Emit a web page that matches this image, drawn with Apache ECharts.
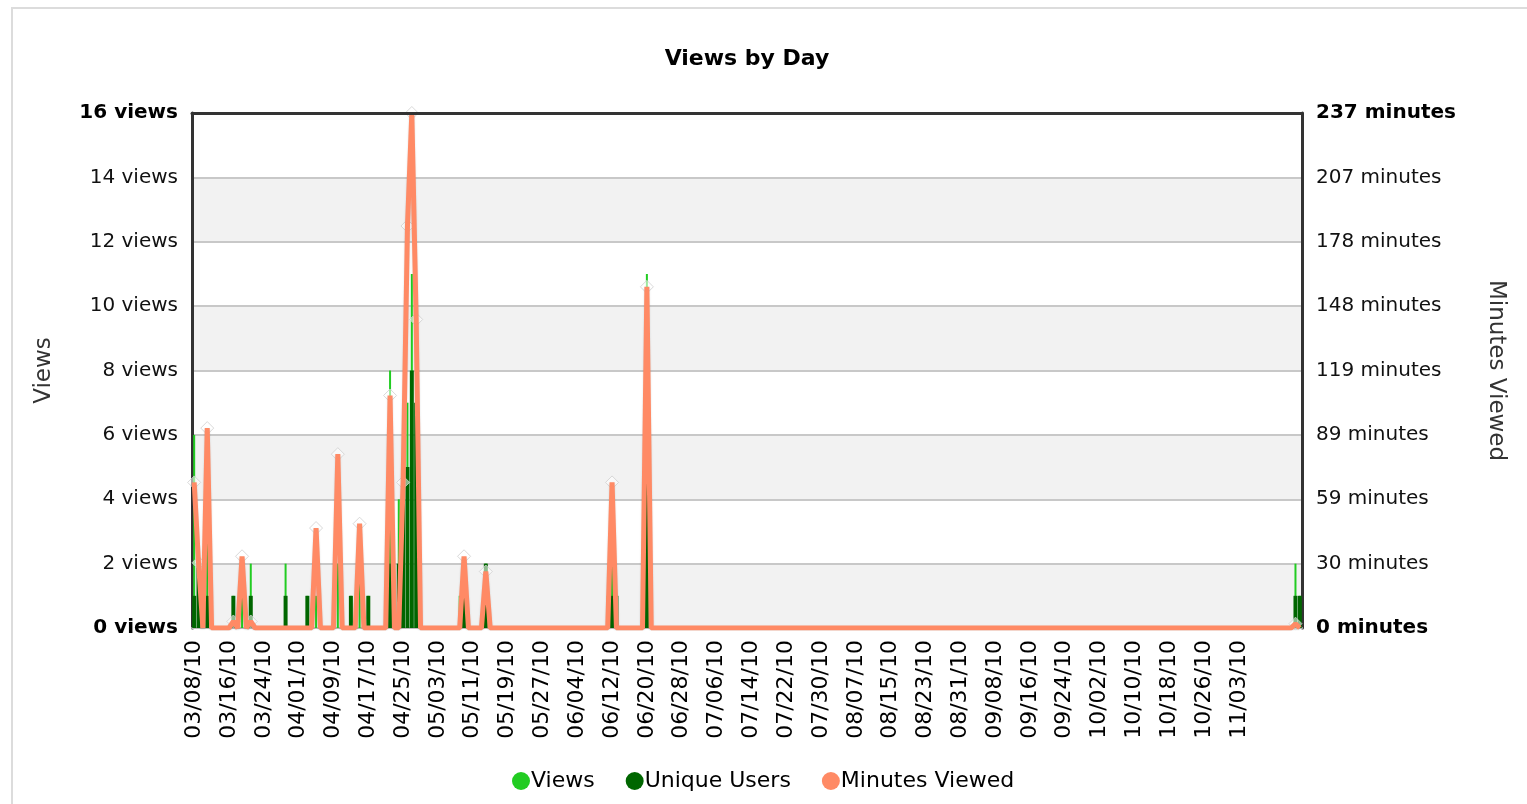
<!DOCTYPE html>
<html>
<head>
<meta charset="utf-8">
<title>Views by Day</title>
<script src="https://cdn.jsdelivr.net/npm/echarts@6/dist/echarts.min.js"></script>
<style>
html, body { margin: 0; padding: 0; background: #fff; }
#chart { width: 1527px; height: 804px; }
</style>
</head>
<body>
<div id="chart"></div>
<script>
// days run from 03/08/10, one category per day
var startDate = [2010, 2, 8];
var dayCount = 255;

// [day index, value] for the days that have something, all other days are 0
var viewsByDay = [[0, 6], [1, 2], [3, 3], [9, 1], [11, 1], [13, 2], [21, 2], [26, 1], [28, 1], [33, 2],
	[36, 1], [38, 2], [40, 1], [45, 8], [46, 1], [47, 4], [48, 6], [49, 7], [50, 11], [51, 10],
	[61, 1], [62, 1], [67, 2], [95, 1], [96, 2], [97, 1], [103, 1], [104, 11], [253, 2], [254, 1]];
var usersByDay = [[0, 1], [1, 2], [3, 1], [9, 1], [13, 1], [21, 1], [26, 1], [36, 1], [40, 1], [45, 2],
	[47, 2], [48, 4], [49, 5], [50, 8], [51, 7], [62, 1], [67, 2], [96, 1], [97, 1], [104, 5], [253, 1], [254, 1]];
var minutesByDay = [[0, 67], [1, 30], [3, 92], [9, 3], [11, 33], [13, 3], [28, 46], [33, 80], [38, 48],
	[45, 107], [48, 67], [49, 185], [50, 237], [51, 142], [62, 33], [67, 26], [96, 67], [104, 157], [253, 2]];

var viewsMax = 16;
var minutesMax = 237;

var FONT = 'DejaVu Sans';

function dayLabels() {
	var res = [];
	for (var i = 0; i < dayCount; i++) {
		var d = new Date(startDate[0], startDate[1], startDate[2] + i);
		var mm = ('0' + (d.getMonth() + 1)).slice(-2);
		var dd = ('0' + d.getDate()).slice(-2);
		var yy = ('' + d.getFullYear()).slice(-2);
		res.push(mm + '/' + dd + '/' + yy);
	}
	return res;
}

function fullSeries(pairs) {
	var res = [];
	for (var i = 0; i < dayCount; i++) res.push(0);
	pairs.forEach(function (p) { res[p[0]] = p[1]; });
	return res;
}

var days = dayLabels();
var views = fullSeries(viewsByDay);
var users = fullSeries(usersByDay);
var minutes = fullSeries(minutesByDay);

var myChart = echarts.init(document.getElementById('chart'));

var option = {
	backgroundColor: '#fff',
	animation: false,
	textStyle: { fontFamily: FONT },
	graphic: [{
		type: 'rect',
		shape: { x: 12, y: 8, width: 1600, height: 900 },
		style: { fill: 'none', stroke: '#dcdcdc', lineWidth: 2 },
		silent: true
	}],
	title: {
		text: 'Views by Day',
		left: 742,
		textAlign: 'center',
		top: 43,
		textStyle: { fontFamily: FONT, fontSize: 22, fontWeight: 'bold', color: '#000' }
	},
	legend: {
		data: ['Views', 'Unique Users', 'Minutes Viewed'],
		left: 507,
		top: 765,
		icon: 'circle',
		itemWidth: 18,
		itemHeight: 18,
		itemGap: 31,
		textStyle: { fontFamily: FONT, fontSize: 22, color: '#000', padding: [0, 0, 0, -4] }
	},
	grid: { left: 192, right: 225, top: 113, bottom: 176 },
	xAxis: [
		{
			type: 'category',
			data: days,
			boundaryGap: true,
			axisLine: { lineStyle: { color: '#bbb', width: 2 } },
			axisTick: { show: false },
			axisLabel: {
				rotate: 90,
				margin: 12,
				fontFamily: FONT,
				fontSize: 22,
				color: '#000',
				interval: function (index) { return index % 8 === 0 && index <= 240; }
			},
			splitLine: { show: false }
		},
		{
			type: 'category',
			data: days,
			position: 'top',
			boundaryGap: true,
			z: 10,
			axisLine: { onZero: false, lineStyle: { color: '#333', width: 3 } },
			axisTick: { show: false },
			axisLabel: { show: false },
			splitLine: { show: false }
		}
	],
	yAxis: [
		{
			type: 'value',
			name: 'Views',
			nameLocation: 'middle',
			nameGap: 136,
			nameTextStyle: { fontFamily: FONT, fontSize: 23, color: '#333' },
			min: 0,
			max: viewsMax,
			interval: 2,
			axisLine: { show: true, lineStyle: { color: '#333', width: 3 } },
			axisTick: { show: false },
			axisLabel: {
				margin: 14,
				fontFamily: FONT,
				fontSize: 20,
				color: '#111',
				formatter: function (v) {
					var s = v + ' views';
					return (v === 0 || v === viewsMax) ? '{b|' + s + '}' : s;
				},
				rich: { b: { fontFamily: FONT, fontSize: 20, fontWeight: 'bold', color: '#000' } }
			},
			splitLine: { lineStyle: { color: '#c8c8c8', width: 2 } },
			splitArea: { show: true, areaStyle: { color: ['#f2f2f2', '#ffffff'] } }
		},
		{
			type: 'value',
			name: 'Minutes Viewed',
			nameLocation: 'middle',
			nameGap: 182,
			nameRotate: -90,
			nameTextStyle: { fontFamily: FONT, fontSize: 23, color: '#333' },
			min: 0,
			max: minutesMax,
			interval: minutesMax / 8,
			position: 'right',
			axisLine: { show: true, lineStyle: { color: '#333', width: 3 } },
			axisTick: { show: false },
			axisLabel: {
				margin: 14,
				fontFamily: FONT,
				fontSize: 20,
				color: '#111',
				formatter: function (v) {
					var m = Math.round(v);
					var s = m + ' minutes';
					return (m === 0 || m === minutesMax) ? '{b|' + s + '}' : s;
				},
				rich: { b: { fontFamily: FONT, fontSize: 20, fontWeight: 'bold', color: '#000' } }
			},
			splitLine: { show: false }
		}
	],
	series: [
		{
			name: 'Views',
			type: 'bar',
			xAxisIndex: 0,
			yAxisIndex: 0,
			barWidth: 2,
			itemStyle: { color: '#22cc22' },
			z: 2,
			data: views
		},
		{
			name: 'Unique Users',
			type: 'bar',
			xAxisIndex: 1,
			yAxisIndex: 0,
			barWidth: 4,
			itemStyle: { color: '#006600' },
			z: 3,
			data: users
		},
		{
			name: 'points',
			type: 'scatter',
			yAxisIndex: 1,
			symbol: 'diamond',
			symbolSize: 13,
			itemStyle: { color: 'rgba(255,255,255,0.7)', borderColor: '#d0d0d0', borderWidth: 1 },
			z: 4,
			data: minutes.map(function (m) { return m > 0 ? m : null; })
		},
		{
			name: 'Minutes Viewed',
			type: 'line',
			yAxisIndex: 1,
			showSymbol: false,
			symbol: 'circle',
			itemStyle: { color: '#ff8a65' },
			lineStyle: { color: '#ff8a65', width: 5, shadowColor: 'rgba(0,0,0,0.15)', shadowBlur: 2, shadowOffsetY: 1 },
			z: 5,
			data: minutes
		}
	]
};

myChart.setOption(option);
</script>
</body>
</html>
